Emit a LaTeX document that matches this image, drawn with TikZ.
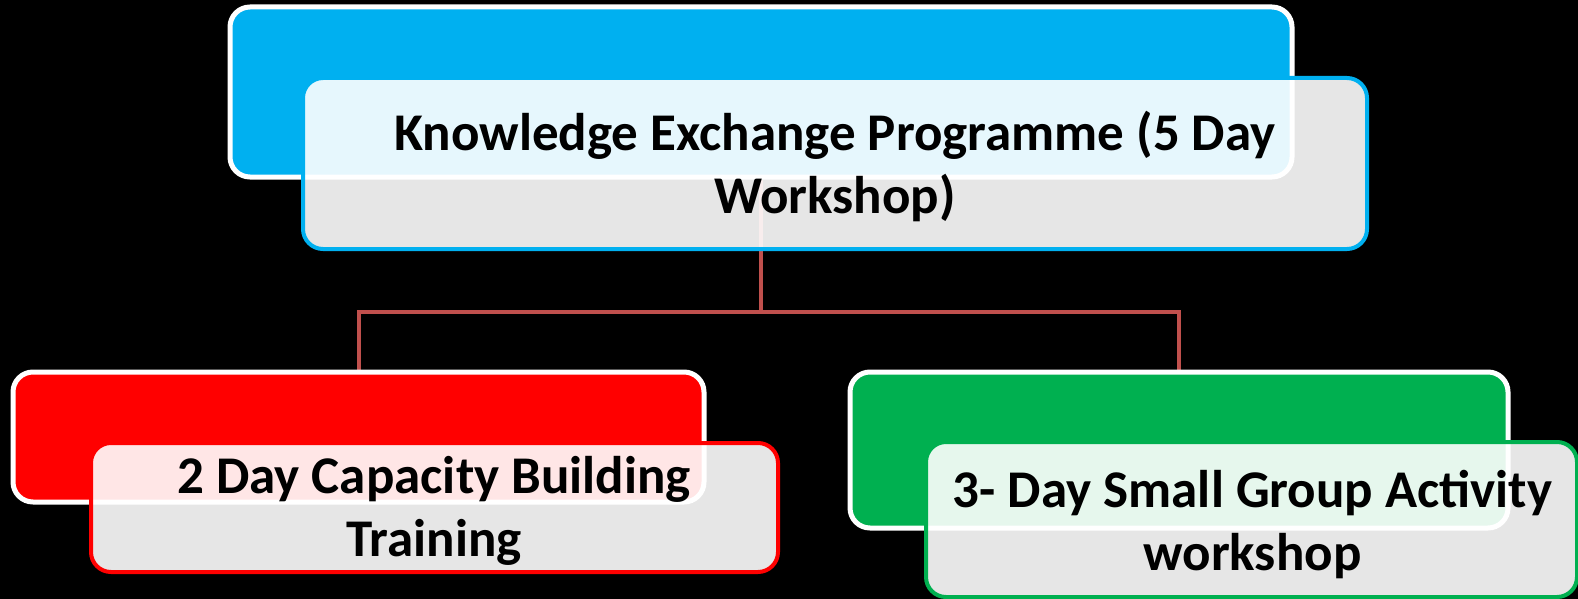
\documentclass[tikz,border=0pt]{standalone}
\usepackage{fontspec}
\setmainfont{Carlito}
\usetikzlibrary{backgrounds}
\definecolor{kblue}{HTML}{00B0F0}
\definecolor{kred}{HTML}{FF0000}
\definecolor{kgreen}{HTML}{00B050}
\definecolor{connc}{HTML}{C0504D}
\begin{document}
\begin{tikzpicture}[x=1pt,y=-1pt,
  backbox/.style={draw=white, line width=5pt, rounded corners=20pt, inner sep=0pt},
  txtbox/.style={fill=white, fill opacity=0.9, line width=4pt, rounded corners=20pt, inner sep=0pt},
  lbl/.style={anchor=base, inner sep=0pt, align=flush center, text=black, font=\bfseries\fontsize{53}{63}\selectfont},
  conn/.style={draw=connc, line width=4pt}]
\useasboundingbox (0,0) rectangle (1578,599);
% back boxes
\node[backbox, fill=kblue, minimum width=1062pt, minimum height=170pt] (kb) at (761,92) {};
\node[backbox, fill=kred, minimum width=691pt, minimum height=130pt] (rb) at (358.5,437) {};
\node[backbox, fill=kgreen, minimum width=658pt, minimum height=156pt] (gb) at (1179,450) {};
% connectors behind
\coordinate (j) at (761,312);
\begin{scope}[on background layer]
\fill[black] (0,0) rectangle (1578,599);
\draw[conn] (kb.south) -- (j);
\draw[conn] (rb.north) |- (j) -| (gb.north);
\end{scope}
% text boxes
\node[txtbox, draw=kblue, minimum width=1064pt, minimum height=171pt] (kt) at (835,163.5) {};
\node[txtbox, draw=kred, minimum width=687pt, minimum height=129pt] (rt) at (434.5,507.5) {};
\node[txtbox, draw=kgreen, minimum width=651pt, minimum height=155pt] (gt) at (1251.5,519.5) {};
% labels
\node[lbl, text width=1040pt] (kl) at (835,150) {Knowledge Exchange Programme (5 Day\\Workshop)};
\node[lbl, text width=670pt] (rl) at (434,493) {2 Day Capacity Building\\Training};
\node[lbl, text width=640pt] (gl) at (1252.5,507) {3- Day Small Group Activity\\workshop};
\end{tikzpicture}
\end{document}
